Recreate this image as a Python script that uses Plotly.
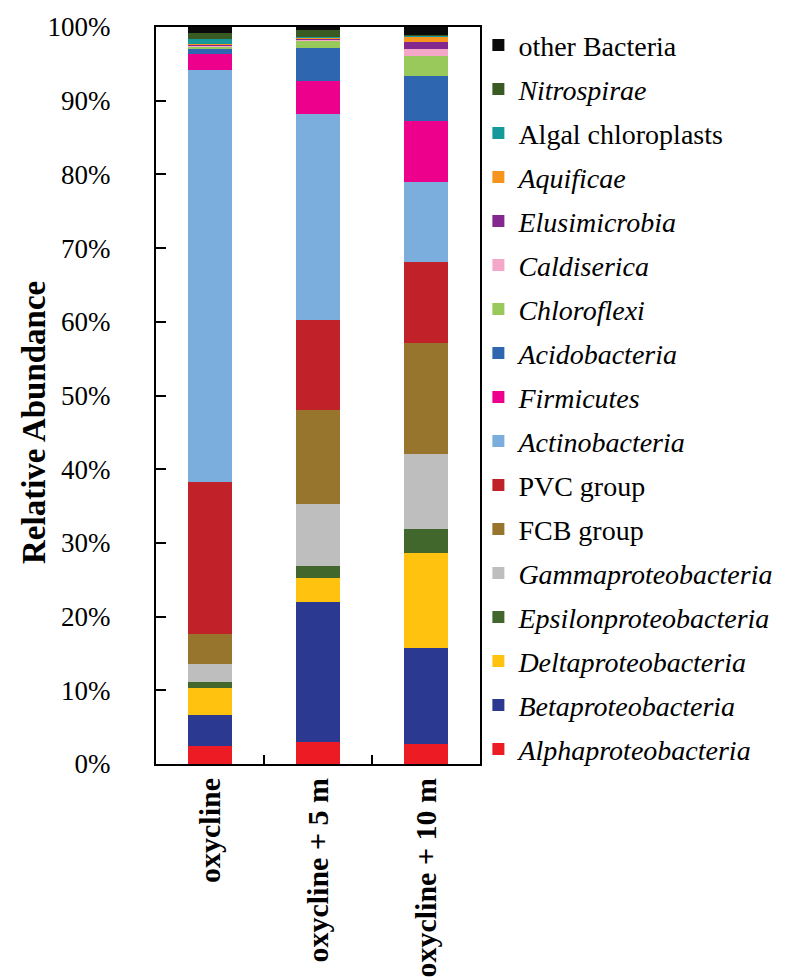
import plotly.graph_objects as go

samples = ["oxycline", "oxycline + 5 m", "oxycline + 10 m"]

# stacking order, bottom to top
alpha = [2.4, 3.0, 2.7]
beta = [4.3, 19.0, 13.0]
delta = [3.6, 3.2, 12.9]
epsilon = [0.8, 1.6, 3.3]
gamma = [2.5, 8.5, 10.2]
fcb = [4.0, 12.7, 15.0]
pvc = [20.6, 12.2, 11.0]
actino = [55.9, 28.0, 10.9]
firmicutes = [2.3, 4.5, 8.3]
acido = [0.6, 4.5, 6.0]
chloroflexi = [0.4, 0.9, 2.7]
caldiserica = [0.1, 0.15, 1.0]
elusimicrobia = [0.1, 0.15, 1.0]
aquificae = [0.05, 0.15, 0.65]
algal = [0.75, 0.15, 0.15]
nitrospirae = [0.75, 0.9, 0.15]
other = [1.0, 0.5, 1.0]

series = [
    ("<i>Alphaproteobacteria</i>", alpha, "#ED1C24"),
    ("<i>Betaproteobacteria</i>", beta, "#2B3990"),
    ("<i>Deltaproteobacteria</i>", delta, "#FFC20E"),
    ("<i>Epsilonproteobacteria</i>", epsilon, "#42672C"),
    ("<i>Gammaproteobacteria</i>", gamma, "#BEBEBE"),
    ("FCB group", fcb, "#98752D"),
    ("PVC group", pvc, "#C1222A"),
    ("<i>Actinobacteria</i>", actino, "#7BAEDC"),
    ("<i>Firmicutes</i>", firmicutes, "#EC008C"),
    ("<i>Acidobacteria</i>", acido, "#2E66B0"),
    ("<i>Chloroflexi</i>", chloroflexi, "#98C95A"),
    ("<i>Caldiserica</i>", caldiserica, "#F5A7C9"),
    ("<i>Elusimicrobia</i>", elusimicrobia, "#84288F"),
    ("<i>Aquificae</i>", aquificae, "#F7941D"),
    ("Algal chloroplasts", algal, "#16999A"),
    ("<i>Nitrospirae</i>", nitrospirae, "#3A5A24"),
    ("other Bacteria", other, "#0A0A0A"),
]

FONT = "Liberation Serif, Times New Roman, serif"

fig = go.Figure()
n = len(series)
for i, (name, vals, color) in enumerate(series):
    fig.add_trace(go.Bar(
        x=samples, y=vals, name=name,
        marker=dict(color=color, line=dict(width=0)),
        legendgroup=f"g{i}", legendrank=100 + (n - i),
    ))

fig.update_layout(
    width=786, height=980,
    barmode="stack", bargap=0.6,
    paper_bgcolor="white", plot_bgcolor="white",
    margin=dict(l=148, r=314, t=19, b=224, autoexpand=False),
    font=dict(family=FONT, size=28, color="black"),
    legend=dict(
        x=0.995, xanchor="left", y=1.009, yanchor="top",
        traceorder="grouped", tracegroupgap=4.6,
        font=dict(family=FONT, size=28, color="black"),
        itemwidth=30, bgcolor="rgba(0,0,0,0)",
        maxheight=2000,
    ),
    annotations=[dict(
        text="<b>Relative Abundance</b>", textangle=-90,
        xref="paper", yref="paper",
        x=-(148 - 26) / 324, y=(756 - 415) / 737.0,
        xanchor="center", yanchor="middle", showarrow=False,
        font=dict(family=FONT, size=33, color="black"),
    )],
)

fig.update_yaxes(
    range=[0, 100], dtick=10, ticksuffix="%",
    showline=True, linecolor="black", linewidth=2, mirror=True,
    ticks="inside", ticklen=10, tickwidth=2, tickcolor="black",
    showgrid=False, zeroline=False,
    tickfont=dict(family=FONT, size=27),
    ticklabelstandoff=38,
)
fig.update_xaxes(
    showline=True, linecolor="black", linewidth=2, mirror=True,
    ticks="inside", ticklen=9, tickwidth=2, tickcolor="black",
    tickson="boundaries", tickangle=-90,
    tickfont=dict(family=FONT, size=30),
    ticktext=[f"<b>{s}</b>" for s in samples], tickvals=samples,
    showgrid=False,
)

fig.write_html("out.html")
